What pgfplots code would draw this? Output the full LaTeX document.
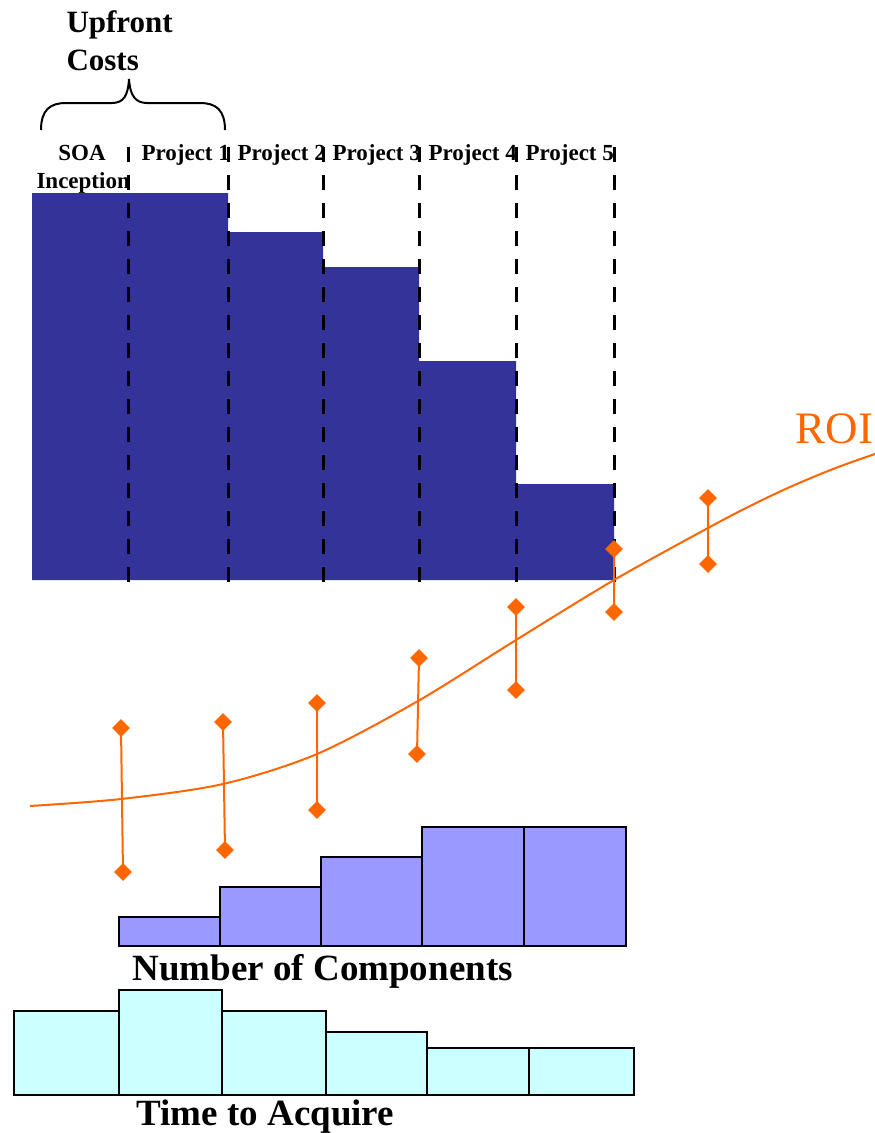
\documentclass[border=0pt]{standalone}
\usepackage{fontspec}
\setmainfont{Liberation Serif}
\usepackage{pgfplots}
\pgfplotsset{compat=1.18}
\definecolor{upblue}{RGB}{51,51,153}
\definecolor{compblue}{RGB}{153,153,255}
\definecolor{timecyan}{RGB}{204,255,255}
\definecolor{roi}{RGB}{255,102,0}
\begin{document}
\begin{tikzpicture}
\begin{axis}[scale only axis, width=875pt, height=1133pt,
  xmin=0, xmax=875, ymin=0, ymax=1133, y dir=reverse,
  hide axis, clip=true, unbounded coords=jump]
% upfront cost bars (SOA Inception, Project 1..5)
\addplot[fill=upblue, draw=none] coordinates {(32,580) (32,193) (128,193) (228,193) (228,232) (323,232) (323,267) (419,267) (419,361) (516,361) (516,484) (614,484) (614,580)} -- cycle;
% labels
\node[anchor=base west, font=\bfseries\fontsize{31}{31}\selectfont] at (axis cs:63,32) {Upfront};
\node[anchor=base west, font=\bfseries\fontsize{31}{31}\selectfont] at (axis cs:63,70) {Costs};
\draw[line width=2pt] (axis cs:41,130) .. controls (axis cs:41,110) and (axis cs:50,103) .. (axis cs:66,103) -- (axis cs:112,103) .. controls (axis cs:124,103) and (axis cs:128,95) .. (axis cs:129,79) .. controls (axis cs:130,95) and (axis cs:135,103) .. (axis cs:147,103) -- (axis cs:200,103) .. controls (axis cs:216,103) and (axis cs:225,110) .. (axis cs:225,130);
\node[anchor=base, font=\bfseries\fontsize{23}{23}\selectfont] at (axis cs:82,160) {SOA};
\node[anchor=base west, font=\bfseries\fontsize{23}{23}\selectfont] at (axis cs:33,188) {Inception};
\node[anchor=base west, font=\bfseries\fontsize{23}{23}\selectfont] at (axis cs:138,160) {Project 1};
\node[anchor=base west, font=\bfseries\fontsize{23}{23}\selectfont] at (axis cs:234,160) {Project 2};
\node[anchor=base west, font=\bfseries\fontsize{23}{23}\selectfont] at (axis cs:329,160) {Project 3};
\node[anchor=base west, font=\bfseries\fontsize{23}{23}\selectfont] at (axis cs:425,160) {Project 4};
\node[anchor=base west, font=\bfseries\fontsize{23}{23}\selectfont] at (axis cs:522,160) {Project 5};
% dashed separators
\addplot[black, line width=3pt, dash pattern=on 15pt off 13pt] coordinates {(128,147) (128,583) (nan,nan) (228,147) (228,583) (nan,nan) (323,147) (323,583) (nan,nan) (419,147) (419,583) (nan,nan) (516,147) (516,583) (nan,nan) (614,147) (614,583)};
% ROI curve
\addplot[roi, line width=2pt, smooth, no marks] coordinates {(30,806) (121,799) (223,784) (317,754) (418,701) (516,640) (614,580) (708,528) (750,506) (790,487) (833,469) (875,454) (910,443)};
% ROI ranges
\addplot[roi, line width=2pt, mark=square*, mark size=5.3pt, mark options={rotate=45, solid, fill=roi}] coordinates {(121,728) (123,872) (nan,nan) (223,722) (225,850) (nan,nan) (317,703) (317,810) (nan,nan) (419,658) (417,754) (nan,nan) (516,607) (516,690) (nan,nan) (614,549) (614,612) (nan,nan) (708,498) (708,564)};
\node[anchor=base west, text=roi, font=\fontsize{45}{45}\selectfont] at (axis cs:792,443) {ROI};
% Number of Components
\addplot[fill=compblue, draw=black, line width=2.5pt] coordinates {(119,946) (119,917) (220,917) (220,946)} -- cycle;
\addplot[fill=compblue, draw=black, line width=2.5pt] coordinates {(220,946) (220,887) (321,887) (321,946)} -- cycle;
\addplot[fill=compblue, draw=black, line width=2.5pt] coordinates {(321,946) (321,857) (422,857) (422,946)} -- cycle;
\addplot[fill=compblue, draw=black, line width=2.5pt] coordinates {(422,946) (422,827) (524,827) (524,946)} -- cycle;
\addplot[fill=compblue, draw=black, line width=2.5pt] coordinates {(524,946) (524,827) (626,827) (626,946)} -- cycle;
\node[anchor=base west, font=\bfseries\fontsize{37}{37}\selectfont] at (axis cs:129,980) {Number of Components};
% Time to Acquire
\addplot[fill=timecyan, draw=black, line width=2.5pt] coordinates {(14,1095) (14,1011) (119,1011) (119,1095)} -- cycle;
\addplot[fill=timecyan, draw=black, line width=2.5pt] coordinates {(119,1095) (119,990) (222,990) (222,1095)} -- cycle;
\addplot[fill=timecyan, draw=black, line width=2.5pt] coordinates {(222,1095) (222,1011) (326,1011) (326,1095)} -- cycle;
\addplot[fill=timecyan, draw=black, line width=2.5pt] coordinates {(326,1095) (326,1032) (427,1032) (427,1095)} -- cycle;
\addplot[fill=timecyan, draw=black, line width=2.5pt] coordinates {(427,1095) (427,1048) (529,1048) (529,1095)} -- cycle;
\addplot[fill=timecyan, draw=black, line width=2.5pt] coordinates {(529,1095) (529,1048) (634,1048) (634,1095)} -- cycle;
\node[anchor=base west, font=\bfseries\fontsize{37}{37}\selectfont] at (axis cs:133,1125) {Time to Acquire};
\end{axis}
\pgfresetboundingbox
\path[use as bounding box] (current axis.south west) rectangle (current axis.north east);
\end{tikzpicture}
\end{document}
